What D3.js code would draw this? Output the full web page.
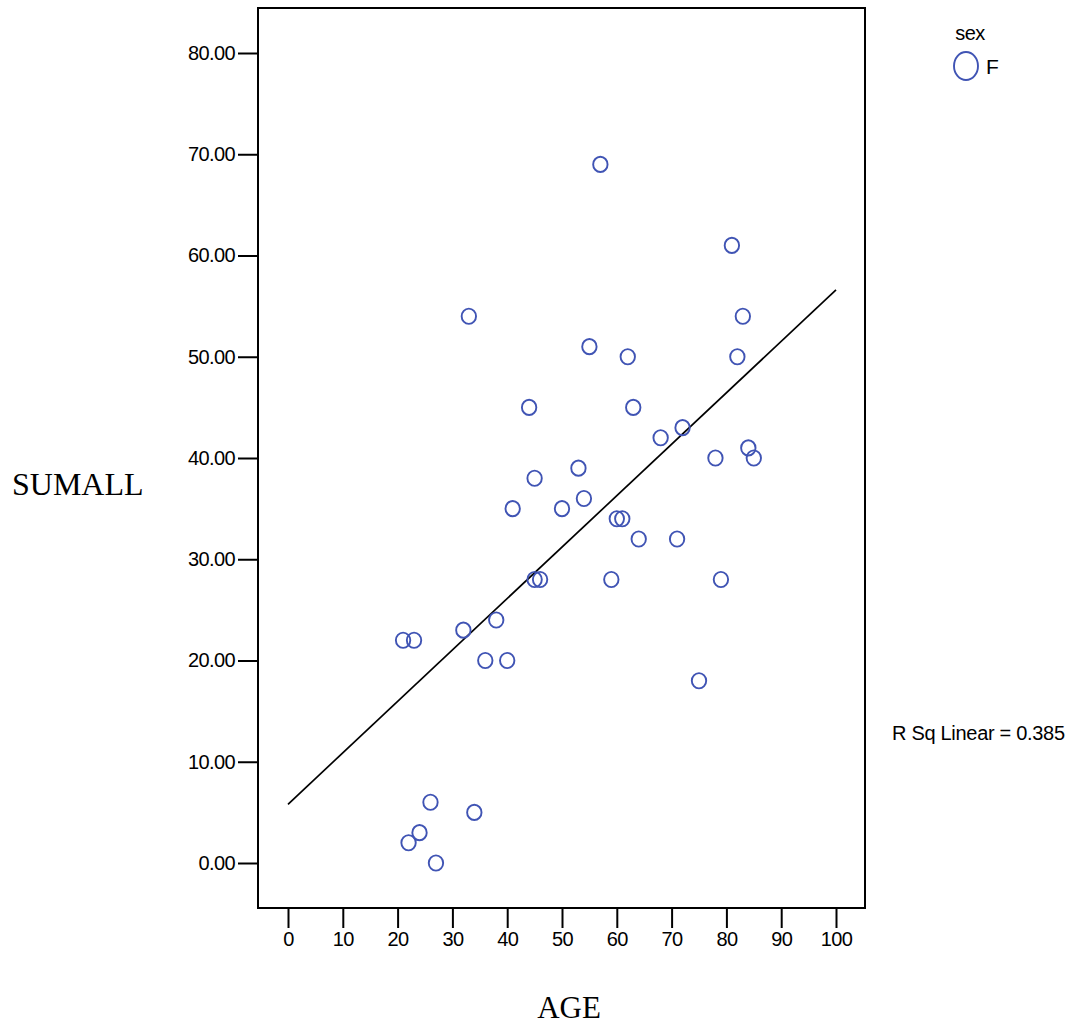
<!DOCTYPE html>
<html>
<head>
<meta charset="utf-8">
<script src="https://cdn.jsdelivr.net/npm/d3@7"></script>
<style>
  body { margin: 0; background: #fff; }
  text { font-family: "Liberation Sans", Arial, sans-serif; fill: #000; }
</style>
</head>
<body>
<div id="chart"></div>
<script>
// data
var age    = [57, 81, 33, 83, 55, 62, 82, 44, 63, 68, 72, 53, 45, 78, 84, 85, 54, 41, 50, 60, 61, 64, 71, 45, 46, 59, 79, 38, 32, 21, 23, 36, 40, 75, 26, 34, 24, 22, 27];
var sumall = [69, 61, 54, 54, 51, 50, 50, 45, 45, 42, 43, 39, 38, 40, 41, 40, 36, 35, 35, 34, 34, 32, 32, 28, 28, 28, 28, 24, 23, 22, 22, 20, 20, 18, 6, 5, 3, 2, 0];
var xTicks = [0, 10, 20, 30, 40, 50, 60, 70, 80, 90, 100];
var yTicks = [0, 10, 20, 30, 40, 50, 60, 70, 80];
var fitX = [0, 100];
var fitY = [5.8, 56.6];
var rSqLabel = "R Sq Linear = 0.385";
var legendTitle = "sex";
var legendItems = ["F"];

var W = 1075, H = 1025;
var frame = {left: 258, top: 8, right: 865, bottom: 908};
var markColor = "#4054b4";

var svg = d3.select("#chart").append("svg")
  .attr("width", W)
  .attr("height", H);

var x = d3.scaleLinear().domain([0, 100]).range([288, 836]);
var y = d3.scaleLinear().domain([0, 80]).range([863, 53]);

// frame
svg.append("rect")
  .attr("x", frame.left)
  .attr("y", frame.top)
  .attr("width", frame.right - frame.left)
  .attr("height", frame.bottom - frame.top)
  .attr("fill", "none")
  .attr("stroke", "#000")
  .attr("stroke-width", 2);

// axes
var xAxis = svg.append("g")
  .attr("transform", "translate(0," + frame.bottom + ")")
  .call(d3.axisBottom(x).tickValues(xTicks).tickSize(20).tickPadding(4).tickFormat(d3.format("d")));

var yAxis = svg.append("g")
  .attr("transform", "translate(" + frame.left + ",0)")
  .call(d3.axisLeft(y).tickValues(yTicks).tickSize(20).tickPadding(3).tickFormat(d3.format(".2f")));

[xAxis, yAxis].forEach(function(g) {
  g.select(".domain").remove();
  g.selectAll(".tick line").attr("stroke", "#000").attr("stroke-width", 2);
  g.selectAll(".tick text")
    .attr("fill", "#000")
    .style("font-family", "'Liberation Sans', Arial, sans-serif")
    .style("font-size", "20px")
    .style("letter-spacing", "-0.6px");
});

// fit line
svg.append("path")
  .datum(d3.zip(fitX, fitY))
  .attr("d", d3.line().x(function(d) { return x(d[0]); }).y(function(d) { return y(d[1]); }))
  .attr("fill", "none")
  .attr("stroke", "#000")
  .attr("stroke-width", 1.7);

// points
svg.append("g").selectAll("ellipse")
  .data(d3.zip(age, sumall))
  .enter().append("ellipse")
  .attr("cx", function(d) { return x(d[0]); })
  .attr("cy", function(d) { return y(d[1]); })
  .attr("rx", 7.2)
  .attr("ry", 7.6)
  .attr("fill", "none")
  .attr("stroke", markColor)
  .attr("stroke-width", 1.9);

// axis titles
svg.append("text")
  .attr("x", 12)
  .attr("y", 484)
  .attr("dominant-baseline", "central")
  .style("font-family", "'Liberation Serif', 'Times New Roman', serif")
  .style("font-size", "32px")
  .text("SUMALL");

svg.append("text")
  .attr("x", 569)
  .attr("y", 1007)
  .attr("text-anchor", "middle")
  .attr("dominant-baseline", "central")
  .style("font-family", "'Liberation Serif', 'Times New Roman', serif")
  .style("font-size", "31px")
  .text("AGE");

// R squared
svg.append("text")
  .attr("x", 892)
  .attr("y", 733)
  .attr("dominant-baseline", "central")
  .style("font-size", "20px")
  .style("letter-spacing", "-0.3px")
  .text(rSqLabel);

// legend
var legend = svg.append("g");
legend.append("text")
  .attr("x", 970)
  .attr("y", 33)
  .attr("text-anchor", "middle")
  .attr("dominant-baseline", "central")
  .style("font-size", "20px")
  .style("letter-spacing", "-0.6px")
  .text(legendTitle);

legendItems.forEach(function(name, i) {
  legend.append("ellipse")
    .attr("cx", 966)
    .attr("cy", 66 + i * 30)
    .attr("rx", 12)
    .attr("ry", 14)
    .attr("fill", "none")
    .attr("stroke", markColor)
    .attr("stroke-width", 1.9);
  legend.append("text")
    .attr("x", 986)
    .attr("y", 66 + i * 30)
    .attr("dominant-baseline", "central")
    .style("font-size", "21px")
    .text(name);
});
</script>
</body>
</html>
